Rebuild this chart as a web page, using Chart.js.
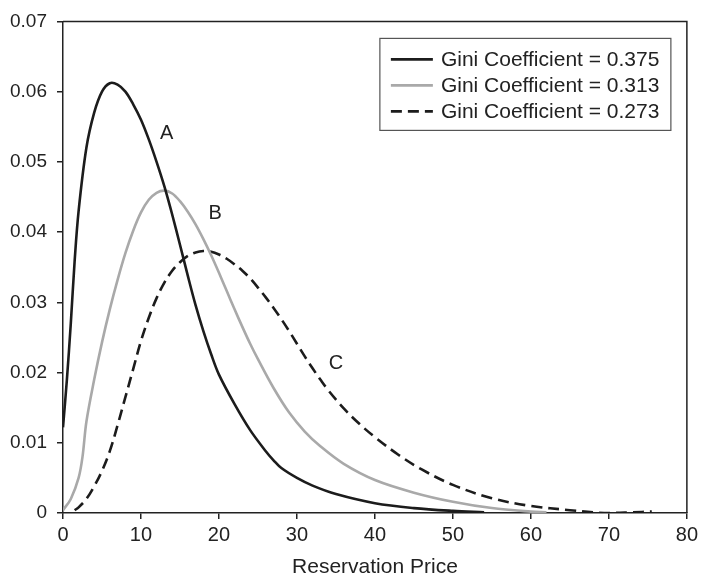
<!DOCTYPE html>
<html>
<head>
<meta charset="utf-8">
<script src="https://cdn.jsdelivr.net/npm/chart.js@4.4.1/dist/chart.umd.min.js"></script>
<style>
  html, body { margin: 0; padding: 0; background: #fff; }
  #wrap { width: 702px; height: 578px; }
</style>
</head>
<body>
<div id="wrap"><canvas id="grafico" width="702" height="578"></canvas></div>
<script>
// reservation price (x) and density (y)
var xA = [0, 0.5, 1, 1.5, 2, 3, 4, 5, 6, 7, 8, 9, 10, 11, 12, 13, 14, 15, 16, 17, 18, 19, 20, 22, 24, 26, 27, 28, 30, 32, 35, 40, 45, 50, 54];
var yA = [0.0122, 0.019, 0.027, 0.036, 0.043, 0.052, 0.057, 0.0600, 0.0612, 0.0610, 0.0600, 0.0582, 0.0560, 0.0532, 0.0500, 0.0465, 0.0425, 0.0382, 0.0338, 0.0296, 0.0259, 0.0226, 0.0197, 0.0155, 0.0118, 0.0088, 0.0075, 0.0064, 0.0050, 0.0039, 0.0027, 0.0014, 0.0007, 0.0003, 0.0001];

var xB = [0, 1, 2, 2.5, 3, 4, 5, 6, 7, 8, 9, 10, 11, 12, 13, 14, 15, 16, 17, 18, 19, 20, 21, 22, 23, 24, 25, 27, 29, 31, 33, 36, 40, 45, 50, 55, 60, 62];
var yB = [0.0004, 0.002, 0.005, 0.008, 0.013, 0.019, 0.0243, 0.0290, 0.0332, 0.0370, 0.0402, 0.0428, 0.0446, 0.0456, 0.0459, 0.0455, 0.0444, 0.0429, 0.0411, 0.0390, 0.0367, 0.0342, 0.0316, 0.0290, 0.0265, 0.0241, 0.0219, 0.0178, 0.0143, 0.0116, 0.0095, 0.0070, 0.0047, 0.0029, 0.0016, 0.0007, 0.0002, 0.0001];

var xC = [1.5, 2, 3, 4, 5, 6, 7, 8, 9, 10, 11, 12, 13, 14, 15, 16, 17, 18, 19, 20, 21, 22, 23, 24, 25, 26, 27, 28, 29, 30, 31, 32, 33, 34, 36, 38, 40, 43, 46, 50, 55, 60, 65, 68, 70, 73, 75.5];
var yC = [0.0004, 0.0008, 0.002, 0.0038, 0.006, 0.0088, 0.0125, 0.0165, 0.0205, 0.0245, 0.0278, 0.0306, 0.0328, 0.0345, 0.0357, 0.0366, 0.0371, 0.0373, 0.0372, 0.0368, 0.0362, 0.0354, 0.0345, 0.0334, 0.0321, 0.0307, 0.0292, 0.0276, 0.0259, 0.0241, 0.0223, 0.0206, 0.0190, 0.0175, 0.0149, 0.0127, 0.0108, 0.0083, 0.0062, 0.0040, 0.0021, 0.0010, 0.0004, 0.0001, 0.0000, 0.0001, 0.0002];

var legendas = ['Gini Coefficient = 0.375', 'Gini Coefficient = 0.313', 'Gini Coefficient = 0.273'];

// curve labels: text, x, y (data units)
var rotulos = [['A', 13.3, 0.054], ['B', 19.5, 0.0426], ['C', 35, 0.0213]];

var xTicks = [0, 10, 20, 30, 40, 50, 60, 70, 80];

function pontos(xs, ys) {
  var out = [];
  for (var i = 0; i < xs.length; i++) out.push({ x: xs[i], y: ys[i] });
  return out;
}

var fonte = '"Liberation Sans", Arial, Helvetica, sans-serif';
var cinzaEscuro = '#1c1c1c';

// frame, curve letters and the boxed legend
var extras = {
  id: 'extras',
  afterDatasetsDraw: function (chart) {
    var ctx = chart.ctx;
    var a = chart.chartArea;
    var sx = chart.scales.x, sy = chart.scales.y;
    ctx.save();
    ctx.strokeStyle = '#222';
    ctx.lineWidth = 1.5;
    ctx.beginPath();
    ctx.moveTo(a.left, a.top);
    ctx.lineTo(a.right, a.top);
    ctx.lineTo(a.right, a.bottom);
    ctx.stroke();

    ctx.fillStyle = '#222';
    ctx.font = '20px ' + fonte;
    ctx.textAlign = 'center';
    ctx.textBaseline = 'middle';
    rotulos.forEach(function (r) {
      ctx.fillText(r[0], sx.getPixelForValue(r[1]), sy.getPixelForValue(r[2]));
    });

    // legend box
    var bx = a.right - 307, by = a.top + 17, bw = 291, bh = 92;
    ctx.fillStyle = '#fff';
    ctx.fillRect(bx, by, bw, bh);
    ctx.strokeStyle = '#555';
    ctx.lineWidth = 1.2;
    ctx.strokeRect(bx, by, bw, bh);
    ctx.font = '21px ' + fonte;
    chart.data.datasets.forEach(function (ds, i) {
      var ly = by + 21 + i * 26;
      ctx.strokeStyle = ds.borderColor;
      ctx.lineWidth = ds.borderWidth;
      ctx.setLineDash(ds.borderDash || []);
      ctx.beginPath();
      ctx.moveTo(bx + 11, ly);
      ctx.lineTo(bx + 53, ly);
      ctx.stroke();
      ctx.setLineDash([]);
      ctx.fillStyle = '#222';
      ctx.textAlign = 'left';
      ctx.fillText(ds.label, bx + 61, ly + 1);
    });
    ctx.restore();
  }
};

var grafico = new Chart(document.getElementById('grafico'), {
  type: 'line',
  data: {
    datasets: [{
      label: legendas[0],
      data: pontos(xA, yA),
      borderColor: cinzaEscuro,
      borderWidth: 2.6,
      pointRadius: 0,
      tension: 0.35
    }, {
      label: legendas[1],
      data: pontos(xB, yB),
      borderColor: '#a9a9a9',
      borderWidth: 2.6,
      pointRadius: 0,
      tension: 0.35
    }, {
      label: legendas[2],
      data: pontos(xC, yC),
      borderColor: cinzaEscuro,
      borderWidth: 2.6,
      borderDash: [11, 6],
      pointRadius: 0,
      tension: 0.35
    }]
  },
  options: {
    responsive: false,
    animation: false,
    layout: { padding: { top: 20, right: 13, left: 0, bottom: 0 } },
    scales: {
      x: {
        type: 'linear',
        min: 0,
        max: 80,
        afterFit: function (s) { s.height = 65; },
        afterBuildTicks: function (s) { s.ticks = xTicks.map(function (v) { return { value: v }; }); },
        grid: { drawOnChartArea: false, drawTicks: true, tickLength: 6, color: '#222', lineWidth: 1.5 },
        border: { display: true, color: '#222', width: 1.5 },
        ticks: { color: '#222', font: { family: fonte, size: 20 }, padding: 4, maxRotation: 0 },
        title: {
          display: true,
          text: 'Reservation Price',
          color: '#222',
          font: { family: fonte, size: 21, lineHeight: 1 },
          padding: { top: 0, bottom: 0 }
        }
      },
      y: {
        min: 0,
        max: 0.07,
        afterFit: function (s) { s.width = 63; },
        grid: { drawOnChartArea: false, drawTicks: true, tickLength: 6, color: '#222', lineWidth: 1.5 },
        border: { display: true, color: '#222', width: 1.5 },
        ticks: {
          stepSize: 0.01,
          color: '#222',
          font: { family: fonte, size: 19 },
          padding: 10,
          callback: function (v) { return v === 0 ? '0' : v.toFixed(2); }
        }
      }
    },
    plugins: {
      legend: { display: false },
      tooltip: { enabled: false }
    }
  },
  plugins: [extras]
});
</script>
</body>
</html>
